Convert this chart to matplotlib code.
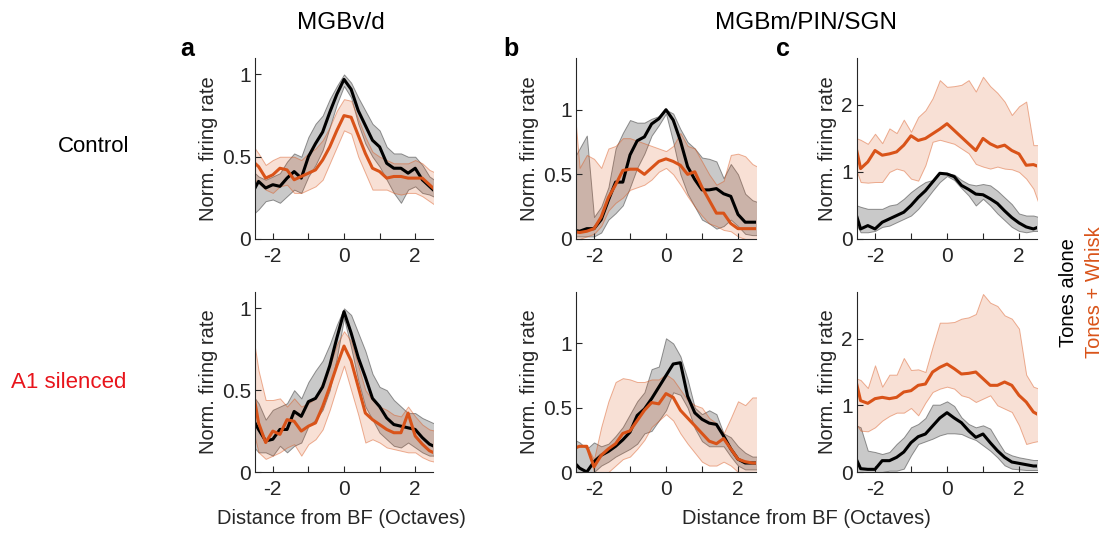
# Tuning curves: MGBv/d and MGBm/PIN/SGN, tones alone vs tones + whisk
import numpy as np
import matplotlib.pyplot as plt

plt.rcParams['font.family'] = ['Liberation Sans', 'DejaVu Sans']
plt.rcParams['font.size'] = 14

# distance from BF (octaves), data run a bit past the axis limits
oct_x = np.arange(-2.6, 2.61, 0.2)

# ---- Control, MGBv/d (a) ----
aT_tone = [0.27, 0.35, 0.31, 0.33, 0.32, 0.37, 0.41, 0.37, 0.50, 0.58, 0.65, 0.77, 0.88, 0.97, 0.91, 0.78, 0.69, 0.60, 0.56, 0.46, 0.43, 0.43, 0.40, 0.43, 0.36, 0.32, 0.28]
aT_tone_lo = [0.14, 0.18, 0.23, 0.24, 0.22, 0.26, 0.30, 0.28, 0.38, 0.45, 0.54, 0.68, 0.82, 0.93, 0.86, 0.70, 0.58, 0.50, 0.44, 0.36, 0.28, 0.22, 0.30, 0.32, 0.28, 0.27, 0.25]
aT_tone_hi = [0.42, 0.38, 0.36, 0.38, 0.40, 0.47, 0.52, 0.50, 0.62, 0.70, 0.75, 0.85, 0.93, 1.00, 0.95, 0.86, 0.78, 0.70, 0.66, 0.56, 0.52, 0.52, 0.50, 0.50, 0.45, 0.38, 0.35]
aT_whisk = [0.48, 0.44, 0.37, 0.39, 0.43, 0.42, 0.36, 0.38, 0.40, 0.42, 0.48, 0.56, 0.66, 0.75, 0.74, 0.63, 0.52, 0.43, 0.41, 0.37, 0.38, 0.38, 0.37, 0.37, 0.37, 0.33, 0.29]
aT_whisk_lo = [0.38, 0.34, 0.30, 0.28, 0.32, 0.33, 0.28, 0.28, 0.30, 0.32, 0.36, 0.46, 0.56, 0.66, 0.64, 0.50, 0.40, 0.30, 0.30, 0.30, 0.28, 0.27, 0.28, 0.28, 0.26, 0.23, 0.20]
aT_whisk_hi = [0.58, 0.52, 0.45, 0.48, 0.50, 0.50, 0.50, 0.48, 0.52, 0.55, 0.60, 0.68, 0.78, 0.85, 0.84, 0.73, 0.62, 0.53, 0.50, 0.48, 0.46, 0.46, 0.46, 0.48, 0.46, 0.42, 0.40]

# ---- Control, MGBm/PIN/SGN (b) ----
bT_tone = [0.07, 0.06, 0.08, 0.08, 0.15, 0.30, 0.44, 0.44, 0.65, 0.76, 0.79, 0.89, 0.93, 1.00, 0.92, 0.76, 0.56, 0.46, 0.38, 0.38, 0.39, 0.35, 0.33, 0.19, 0.13, 0.13, 0.13]
bT_tone_lo = [0.02, 0.02, 0.02, 0.02, 0.05, 0.15, 0.20, 0.26, 0.40, 0.55, 0.66, 0.80, 0.88, 0.97, 0.75, 0.50, 0.35, 0.25, 0.15, 0.12, 0.08, 0.10, 0.15, 0.10, 0.04, 0.03, 0.03]
bT_tone_hi = [0.60, 0.70, 0.80, 0.17, 0.25, 0.40, 0.70, 0.82, 0.92, 0.90, 0.90, 0.93, 0.95, 1.00, 0.97, 0.85, 0.75, 0.70, 0.63, 0.62, 0.60, 0.47, 0.58, 0.50, 0.35, 0.30, 0.28]
bT_whisk = [0.06, 0.05, 0.06, 0.08, 0.17, 0.32, 0.42, 0.53, 0.54, 0.54, 0.50, 0.55, 0.60, 0.62, 0.60, 0.57, 0.50, 0.52, 0.40, 0.30, 0.20, 0.20, 0.12, 0.08, 0.08, 0.08, 0.08]
bT_whisk_lo = [0.00, 0.00, 0.02, 0.04, 0.10, 0.22, 0.28, 0.32, 0.38, 0.40, 0.42, 0.46, 0.52, 0.55, 0.50, 0.42, 0.33, 0.25, 0.18, 0.12, 0.10, 0.07, 0.06, 0.02, 0.00, 0.00, 0.00]
bT_whisk_hi = [1.20, 0.55, 0.65, 0.62, 0.55, 0.70, 0.72, 0.78, 0.78, 0.76, 0.74, 0.72, 0.70, 0.68, 0.72, 0.82, 0.72, 0.70, 0.60, 0.50, 0.42, 0.45, 0.65, 0.66, 0.64, 0.58, 0.55]

# ---- Control, MGBm/PIN/SGN (c) ----
cT_tone = [0.50, 0.15, 0.20, 0.15, 0.25, 0.30, 0.35, 0.40, 0.50, 0.62, 0.72, 0.85, 0.98, 0.97, 0.93, 0.80, 0.74, 0.67, 0.66, 0.60, 0.53, 0.42, 0.32, 0.24, 0.18, 0.15, 0.19]
cT_tone_lo = [0.30, 0.10, 0.10, 0.12, 0.18, 0.20, 0.25, 0.30, 0.35, 0.45, 0.58, 0.72, 0.85, 0.94, 0.88, 0.76, 0.65, 0.50, 0.60, 0.50, 0.38, 0.28, 0.18, 0.12, 0.10, 0.12, 0.12]
cT_tone_hi = [0.52, 0.48, 0.45, 0.45, 0.45, 0.50, 0.52, 0.60, 0.70, 0.78, 0.85, 0.88, 0.99, 0.98, 0.96, 0.88, 0.82, 0.80, 0.82, 0.80, 0.72, 0.62, 0.52, 0.38, 0.35, 0.35, 0.32]
cT_whisk = [1.55, 1.05, 1.15, 1.32, 1.25, 1.27, 1.30, 1.40, 1.54, 1.47, 1.50, 1.57, 1.64, 1.72, 1.62, 1.52, 1.42, 1.32, 1.50, 1.42, 1.37, 1.40, 1.32, 1.27, 1.10, 1.11, 1.07]
cT_whisk_lo = [1.15, 0.85, 0.84, 0.85, 0.85, 1.00, 1.05, 1.02, 0.90, 0.87, 1.10, 1.45, 1.48, 1.45, 1.42, 1.35, 1.28, 1.12, 1.08, 1.05, 1.08, 1.05, 1.04, 1.00, 0.90, 0.75, 0.45]
cT_whisk_hi = [1.52, 1.48, 1.42, 1.57, 1.43, 1.65, 1.58, 1.78, 1.60, 1.82, 1.92, 2.10, 2.37, 2.27, 2.28, 2.30, 2.37, 2.20, 2.42, 2.28, 2.18, 2.05, 1.85, 1.98, 2.05, 1.40, 1.40]

# ---- A1 silenced, MGBv/d ----
aB_tone = [0.34, 0.26, 0.19, 0.20, 0.26, 0.26, 0.37, 0.34, 0.43, 0.45, 0.52, 0.65, 0.82, 0.98, 0.85, 0.70, 0.58, 0.45, 0.40, 0.33, 0.29, 0.28, 0.27, 0.26, 0.21, 0.17, 0.15]
aB_tone_lo = [0.17, 0.12, 0.12, 0.10, 0.16, 0.12, 0.16, 0.18, 0.28, 0.32, 0.38, 0.50, 0.70, 0.94, 0.76, 0.56, 0.40, 0.32, 0.24, 0.20, 0.16, 0.15, 0.18, 0.15, 0.12, 0.10, 0.10]
aB_tone_hi = [0.48, 0.42, 0.32, 0.38, 0.40, 0.42, 0.50, 0.45, 0.55, 0.62, 0.68, 0.78, 0.90, 1.00, 0.96, 0.85, 0.74, 0.60, 0.52, 0.50, 0.44, 0.40, 0.36, 0.36, 0.33, 0.31, 0.29]
aB_whisk = [0.55, 0.30, 0.18, 0.25, 0.23, 0.32, 0.31, 0.25, 0.28, 0.30, 0.40, 0.52, 0.65, 0.77, 0.68, 0.52, 0.36, 0.32, 0.29, 0.26, 0.24, 0.24, 0.36, 0.22, 0.17, 0.13, 0.11]
aB_whisk_lo = [0.30, 0.12, 0.08, 0.10, 0.12, 0.15, 0.17, 0.10, 0.17, 0.20, 0.26, 0.38, 0.52, 0.65, 0.50, 0.35, 0.18, 0.20, 0.18, 0.15, 0.14, 0.13, 0.12, 0.12, 0.09, 0.07, 0.06]
aB_whisk_hi = [0.90, 0.62, 0.44, 0.44, 0.45, 0.40, 0.45, 0.40, 0.42, 0.45, 0.55, 0.65, 0.78, 0.86, 0.80, 0.65, 0.50, 0.44, 0.40, 0.38, 0.35, 0.34, 0.40, 0.34, 0.29, 0.26, 0.25]

# ---- A1 silenced, MGBm/PIN/SGN ----
bB_tone = [0.09, 0.03, 0.00, 0.08, 0.13, 0.16, 0.20, 0.25, 0.31, 0.44, 0.49, 0.57, 0.66, 0.75, 0.84, 0.85, 0.59, 0.46, 0.41, 0.38, 0.37, 0.28, 0.18, 0.10, 0.07, 0.07, 0.07]
bB_tone_lo = [0.00, 0.00, 0.00, 0.00, 0.05, 0.08, 0.12, 0.15, 0.18, 0.22, 0.30, 0.32, 0.40, 0.48, 0.62, 0.60, 0.50, 0.34, 0.24, 0.20, 0.20, 0.20, 0.12, 0.05, 0.02, 0.02, 0.02]
bB_tone_hi = [0.26, 0.23, 0.18, 0.23, 0.20, 0.22, 0.28, 0.35, 0.45, 0.55, 0.62, 0.80, 0.82, 1.04, 1.00, 0.90, 0.72, 0.50, 0.45, 0.48, 0.45, 0.30, 0.27, 0.20, 0.15, 0.12, 0.12]
bB_whisk = [0.18, 0.20, 0.20, 0.04, 0.13, 0.18, 0.22, 0.30, 0.32, 0.40, 0.48, 0.54, 0.53, 0.61, 0.58, 0.48, 0.42, 0.36, 0.30, 0.24, 0.22, 0.26, 0.18, 0.10, 0.08, 0.07, 0.07]
bB_whisk_lo = [0.18, 0.20, 0.20, 0.00, 0.00, 0.00, 0.05, 0.10, 0.12, 0.18, 0.25, 0.35, 0.40, 0.45, 0.40, 0.30, 0.22, 0.15, 0.08, 0.05, 0.05, 0.08, 0.05, 0.00, 0.00, 0.00, 0.00]
bB_whisk_hi = [0.18, 0.20, 0.20, 0.10, 0.35, 0.55, 0.70, 0.73, 0.72, 0.70, 0.70, 0.72, 0.72, 0.76, 0.72, 0.64, 0.56, 0.52, 0.50, 0.42, 0.38, 0.30, 0.42, 0.55, 0.52, 0.58, 0.58]

cB_tone = [0.29, 0.05, 0.04, 0.04, 0.17, 0.17, 0.22, 0.30, 0.44, 0.53, 0.57, 0.69, 0.81, 0.89, 0.81, 0.74, 0.62, 0.52, 0.57, 0.44, 0.32, 0.22, 0.15, 0.13, 0.11, 0.09, 0.09]
cB_tone_lo = [0.00, 0.00, 0.00, 0.00, 0.00, 0.02, 0.02, 0.05, 0.25, 0.42, 0.46, 0.50, 0.55, 0.58, 0.58, 0.57, 0.52, 0.48, 0.40, 0.32, 0.22, 0.10, 0.05, 0.04, 0.03, 0.03, 0.03]
cB_tone_hi = [0.72, 0.67, 0.32, 0.30, 0.27, 0.30, 0.42, 0.52, 0.67, 0.72, 0.81, 1.01, 1.01, 1.06, 0.99, 0.82, 0.72, 0.67, 0.70, 0.65, 0.47, 0.30, 0.25, 0.22, 0.20, 0.18, 0.18]
cB_whisk = [1.53, 1.07, 1.03, 1.10, 1.12, 1.10, 1.12, 1.20, 1.22, 1.30, 1.32, 1.50, 1.57, 1.62, 1.55, 1.47, 1.48, 1.50, 1.40, 1.30, 1.30, 1.35, 1.30, 1.15, 1.05, 0.90, 0.84]
cB_whisk_lo = [0.78, 0.62, 0.61, 0.67, 0.77, 0.84, 0.89, 0.89, 0.96, 0.85, 1.04, 1.20, 1.25, 1.28, 1.25, 1.15, 1.12, 1.05, 1.10, 1.15, 1.00, 0.95, 0.90, 0.70, 0.42, 0.45, 0.47]
cB_whisk_hi = [1.42, 1.38, 1.26, 1.60, 1.28, 1.46, 1.46, 1.71, 1.53, 1.54, 1.50, 1.88, 2.24, 2.24, 2.25, 2.30, 2.32, 2.37, 2.67, 2.54, 2.49, 2.35, 2.30, 2.15, 1.46, 1.28, 1.24]

orange = '#D95319'
axcol = '#262626'

# figure, 1107 x 533 px
W, H = 1107, 533
fig = plt.figure(figsize=(W / 100, H / 100), dpi=100)

def px_box(left, top, right, bottom):
    return [left / W, 1 - bottom / H, (right - left) / W, (bottom - top) / H]

def draw(ax, tone, tone_lo, tone_hi, whisk, whisk_lo, whisk_hi, ymax, yticks):
    ax.fill_between(oct_x, tone_lo, tone_hi, facecolor=(0.45, 0.45, 0.45, 0.38),
                    edgecolor=(0.3, 0.3, 0.3, 0.6), linewidth=0.7)
    ax.fill_between(oct_x, whisk_lo, whisk_hi, facecolor=(0.85, 0.33, 0.1, 0.18),
                    edgecolor=(0.85, 0.33, 0.1, 0.45), linewidth=0.7)
    ax.plot(oct_x, tone, color='k', lw=2.2)
    ax.plot(oct_x, whisk, color=orange, lw=2.2)
    ax.set_xlim(-2.5, 2.5)
    ax.set_ylim(0, ymax)
    ax.set_xticks([-2, -1, 0, 1, 2])
    ax.set_xticklabels(['-2', '', '0', '', '2'])
    ax.set_yticks(yticks)
    ax.set_yticklabels([('%g' % t) for t in yticks])
    ax.spines['top'].set_visible(False)
    ax.spines['right'].set_visible(False)
    for s in ['left', 'bottom']:
        ax.spines[s].set_color(axcol)
        ax.spines[s].set_linewidth(0.8)
    ax.tick_params(direction='in', length=4, width=0.8, color=axcol,
                   labelcolor=axcol, labelsize=15, pad=3)
    ax.tick_params(axis='x', pad=6)
    ax.set_ylabel('Norm. firing rate', fontsize=14.5, color=axcol, labelpad=3)

# top row
ax1 = fig.add_axes(px_box(255, 58, 433, 239))
draw(ax1, aT_tone, aT_tone_lo, aT_tone_hi, aT_whisk, aT_whisk_lo, aT_whisk_hi, 1.1, [0, 0.5, 1])
ax2 = fig.add_axes(px_box(576, 58, 756, 239))
draw(ax2, bT_tone, bT_tone_lo, bT_tone_hi, bT_whisk, bT_whisk_lo, bT_whisk_hi, 1.4, [0, 0.5, 1])
ax3 = fig.add_axes(px_box(857, 58, 1037, 239))
draw(ax3, cT_tone, cT_tone_lo, cT_tone_hi, cT_whisk, cT_whisk_lo, cT_whisk_hi, 2.7, [0, 1, 2])

# bottom row
ax4 = fig.add_axes(px_box(255, 292, 433, 472))
draw(ax4, aB_tone, aB_tone_lo, aB_tone_hi, aB_whisk, aB_whisk_lo, aB_whisk_hi, 1.1, [0, 0.5, 1])
ax5 = fig.add_axes(px_box(576, 292, 756, 472))
draw(ax5, bB_tone, bB_tone_lo, bB_tone_hi, bB_whisk, bB_whisk_lo, bB_whisk_hi, 1.4, [0, 0.5, 1])
ax6 = fig.add_axes(px_box(857, 292, 1037, 472))
draw(ax6, cB_tone, cB_tone_lo, cB_tone_hi, cB_whisk, cB_whisk_lo, cB_whisk_hi, 2.7, [0, 1, 2])

def ftext(x, y, s, **kw):
    fig.text(x / W, 1 - y / H, s, ha='center', va='center', **kw)

# column titles, panel letters
ftext(341, 23, 'MGBv/d', fontsize=17.5)
ftext(806, 23, 'MGBm/PIN/SGN', fontsize=17.5)
ftext(187, 49, 'a', fontsize=18, fontweight='bold')
ftext(511, 49, 'b', fontsize=18, fontweight='bold')
ftext(783, 49, 'c', fontsize=18, fontweight='bold')

# row labels
ftext(94, 147, 'Control', fontsize=16)
ftext(69, 382, 'A1 silenced', fontsize=16, color='#E8141B')

# legend text
ftext(1068, 293, 'Tones alone', fontsize=14.5, rotation=90)
ftext(1095, 292, 'Tones + Whisk', fontsize=14.5, rotation=90, color=orange)

# x labels
ftext(341, 519, 'Distance from BF (Octaves)', fontsize=14.5, color=axcol)
ftext(806, 519, 'Distance from BF (Octaves)', fontsize=14.5, color=axcol)

plt.savefig('out.png', dpi=100)
